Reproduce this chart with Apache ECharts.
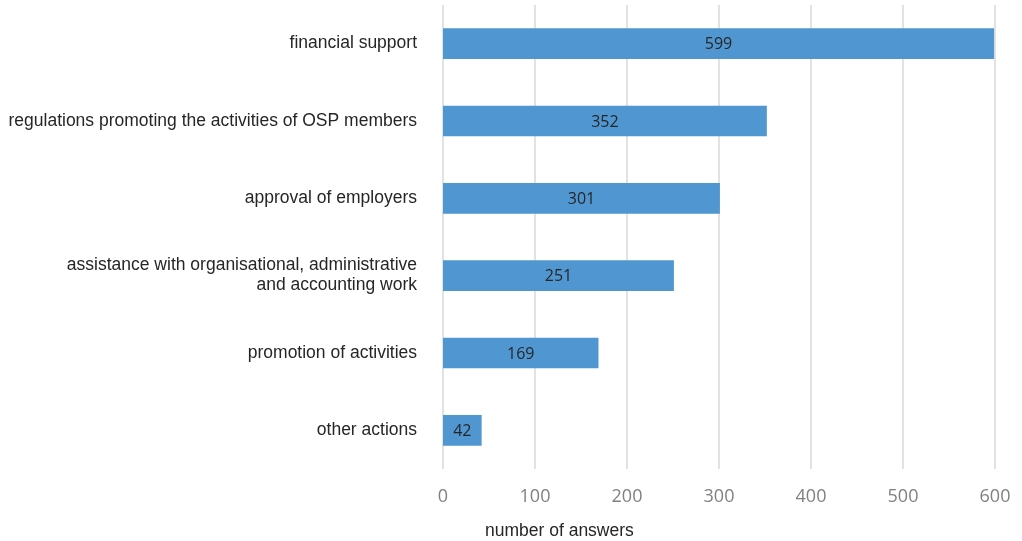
<!DOCTYPE html>
<html>
<head>
<meta charset="utf-8">
<script src="https://cdn.jsdelivr.net/npm/echarts@6/dist/echarts.min.js"></script>
<style>html,body{margin:0;padding:0;background:#fff;}#c{width:1022px;height:541px;}</style>
</head>
<body>
<div id="c"></div>
<script>
const categories = [
  "financial support",
  "regulations promoting the activities of OSP members",
  "approval of employers",
  "assistance with organisational, administrative\nand accounting work",
  "promotion of activities",
  "other actions"
];
const values = [599, 352, 301, 251, 169, 42];
const xTicks = { min: 0, max: 600, interval: 100 };
const axisTitle = "number of answers";

const chart = echarts.init(document.getElementById('c'), null, { renderer: 'canvas' });
chart.setOption({
  animation: false,
  backgroundColor: '#ffffff',
  grid: { left: 443, right: 27, top: 5, bottom: 72, containLabel: false },
  xAxis: {
    type: 'value',
    min: xTicks.min, max: xTicks.max, interval: xTicks.interval,
    axisLine: { show: false },
    axisTick: { show: false },
    splitLine: { show: true, lineStyle: { color: '#d9d9d9', width: 1.5 } },
    axisLabel: { color: '#808080', fontSize: 18, fontFamily: 'Open Sans', margin: 19 }
  },
  yAxis: {
    type: 'category',
    inverse: true,
    data: categories,
    axisLine: { show: false },
    axisTick: { show: false },
    axisLabel: { color: '#262626', fontSize: 17.5, fontFamily: 'Liberation Sans', margin: 26, align: 'right', lineHeight: 20, padding: [6, 0, 0, 0] }
  },
  series: [{
    type: 'bar',
    data: values,
    barWidth: '39.6%',
    itemStyle: { color: '#5097d1' },
    label: { show: true, position: 'inside', color: '#262626', fontSize: 16, fontFamily: 'Open Sans', offset: [0, 1] }
  }],
  graphic: [{
    type: 'text',
    left: 485, top: 522,
    style: { text: axisTitle, fill: '#262626', font: '17.5px "Liberation Sans"' }
  }]
});
</script>
</body>
</html>
